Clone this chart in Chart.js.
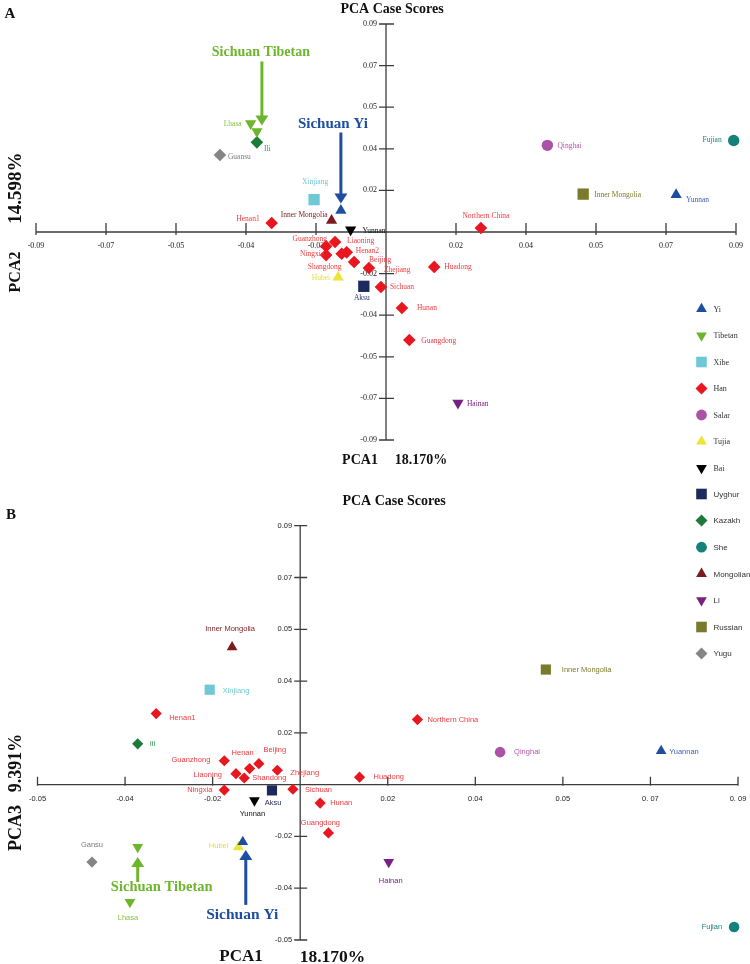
<!DOCTYPE html>
<html><head><meta charset="utf-8">
<script src="https://cdn.jsdelivr.net/npm/chart.js@4.4.1/dist/chart.umd.min.js"></script>
<style>
html,body{margin:0;padding:0;background:#fff;}
#wrap{position:relative;width:750px;height:964px;overflow:hidden;}
#ca{position:absolute;left:0;top:0;}
#cb{position:absolute;left:0;top:480px;}
</style></head><body>
<div id="wrap"><canvas id="ca" width="750" height="480"></canvas><canvas id="cb" width="750" height="484"></canvas></div>
<script>
// ---------- groups ----------
const groups = ['Yi','Tibetan','Xibe','Han','Salar','Tujia','Bai','Uyghur','Kazakh','She','Mongolian','Li','Russian','Yugu'];
const groupColors = ['#1f4ea0','#6cb52d','#6ec8d6','#e8161e','#ab52a6','#ece535','#000000','#1c2a5e','#1c7b3b','#16807a','#7b1a1f','#782080','#7a7a2c','#858585'];
const labelColors = ['#3b5fb5','#86c341','#6ec8d6','#f03a3f','#b055ab','#e3dc3a','#111111','#1c2a5e','#2a9a4a','#178079','#7b1a1f','#782080','#7a7a2c','#7d7d7d'];
const groupShapes = ['triangle','triangle','rect','rectRot','circle','triangle','triangle','rect','rectRot','circle','triangle','triangle','rect','rectRot'];
const groupRot = [0,180,0,0,0,0,180,0,0,0,0,180,0,0];

// ---------- ticks (evenly spaced positions, printed labels) ----------
const tickStep = 0.018;
const aTickIdx = [-5,-4,-3,-2,-1,0,1,2,3,4,5];
const aXTickLabels = ['-0.09','-0.07','-0.05','-0.04','-0.02','','0.02','0.04','0.05','0.07','0.09'];
const aYTickLabels = ['-0.09','-0.07','-0.05','-0.04','-0.02','','0.02','0.04','0.05','0.07','0.09'];
const bTickIdx = [-3,-2,-1,0,1,2,3,4,5];
const bXTickLabels = ['-0.05','-0.04','-0.02','','0.02','0.04','0.05','0. 07','0. 09'];
const bYTickLabels = ['-0.05','-0.04','-0.02','','0.02','0.04','0.05','0.07','0.09'];

// ---------- Panel A: PCA1 vs PCA2 ----------
const aSites = ['Yunnan','Sichuan Yi','Lhasa','Sichuan Tibetan','Xinjiang','Henan1','Guanzhong','Liaoning','Ningxia','Shangdong','Henan2','Beijing','Zhejiang','Huadong','Sichuan','Hunan','Guangdong','Northern China','Qinghai','Hubei','Yunnan','Aksu','Ili','Fujian','Inner Mongolia','Hainan','Inner Mongolia','Guansu'];
const aGroup = ['Yi','Yi','Tibetan','Tibetan','Xibe','Han','Han','Han','Han','Han','Han','Han','Han','Han','Han','Han','Han','Han','Salar','Tujia','Bai','Uyghur','Kazakh','She','Mongolian','Li','Russian','Yugu'];
const aPC1 = [0.0746,-0.0116,-0.0348,-0.0332,-0.0185,-0.0294,-0.0154,-0.0131,-0.0154,-0.0114,-0.0101,-0.0082,-0.0044,0.0124,-0.0013,0.0041,0.0060,0.0244,0.0415,-0.0123,-0.0091,-0.0057,-0.0332,0.0894,-0.0140,0.0185,0.0507,-0.0427];
const aPC2 = [0.0161,0.0093,0.0469,0.0435,0.0140,0.0039,-0.0062,-0.0043,-0.0100,-0.0094,-0.0088,-0.0130,-0.0156,-0.0151,-0.0238,-0.0329,-0.0467,0.0017,0.0375,-0.0196,0.0010,-0.0235,0.0388,0.0396,0.0050,-0.0740,0.0164,0.0333];

// ---------- Panel B: PCA1 vs PCA3 ----------
const bSites = ['Yuannan','Sichuan Yi','Lhasa','Sichuan Tibetan','Xinjiang','Henan1','Guanzhong','Henan','Beijing','Liaoning','Shandong','Zhejiang','Ningxia','Sichuan','Hunan','Guangdong','Huadong','Northern China','Qinghai','Hubei','Yunnan','Aksu','Ili','Fujian','Inner Mongolia','Hainan','Inner Mongolia','Gansu'];
const bGroup = ['Yi','Yi','Tibetan','Tibetan','Xibe','Han','Han','Han','Han','Han','Han','Han','Han','Han','Han','Han','Han','Han','Salar','Tujia','Bai','Uyghur','Kazakh','She','Mongolian','Li','Russian','Yugu'];
const bPC1 = [0.0742,-0.0118,-0.0350,-0.0334,-0.0186,-0.0296,-0.0156,-0.0104,-0.0085,-0.0132,-0.0115,-0.0047,-0.0156,-0.0015,0.0041,0.0058,0.0122,0.0241,0.0411,-0.0127,-0.0094,-0.0058,-0.0334,0.0892,-0.0140,0.0182,0.0505,-0.0428];
const bPC3 = [0.0117,-0.0199,-0.0408,-0.0217,0.0330,0.0247,0.0083,0.0056,0.0073,0.0038,0.0023,0.0050,-0.0019,-0.0016,-0.0064,-0.0168,0.0026,0.0226,0.0113,-0.0217,-0.0055,-0.0020,0.0142,-0.0495,0.0478,-0.0269,0.0400,-0.0269];

// ---------- label placement (style, not data) ----------
const aLabelPos = [
 [10,5,'left'], null, [-9,0,'right'], null, [1,-18,'center'], [-12,-4,'right'],
 [1,-7,'right'], [12,-1,'left'], [-2,-1,'right'], [-17,13,'center'], [9,-1,'left'],
 [15,-2,'left'], [15,2,'left'], [10,0,'left'], [9,0,'left'], [15,0,'left'], [12,1,'left'],
 [5,-12,'center'], [10,1,'left'], [-8,1,'right'], [12,1,'left'], [-2,12,'center'],
 [7,7,'left'], [-12,0,'right'], [-4,-5,'right'], [9,1,'left'], [11,1,'left'], [8,2,'left']
];
const bLabelPos = [
 [8,1,'left'], null, [-2,16,'center'], null, [13,1,'left'], [13,4,'left'], [-14,-1,'right'],
 [-7,-16,'center'], [16,-14,'center'], [-14,1,'right'], [8,0,'left'], [13,3,'left'],
 [-12,0,'right'], [12,1,'left'], [10,0,'left'], [-8,-10,'center'], [14,0,'left'],
 [10,0,'left'], [14,0,'left'], [-10,-1,'right'], [-2,13,'center'], [1,13,'center'],
 [12,0,'left'], [-12,0,'right'], [-2,-18,'center'], [2,19,'center'], [16,0,'left'], [0,-17,'center']
];
// arrow call-outs attached to a site (s=-1: arrow points down, +1: points up)
const aArrows = [
 {site:3, group:'Tibetan', text:'Sichuan Tibetan', tip:[5,-6], len:64, s:-1, tdx:-1, gap:9, size:14},
 {site:1, group:'Yi', text:'Sichuan Yi', tip:[0,-7], len:71, s:-1, tdx:-8, gap:8, size:15}
];
const bArrows = [
 {site:3, group:'Tibetan', text:'Sichuan Tibetan', tip:[0,10], len:25, s:1, tdx:24, gap:5, size:14.5},
 {site:1, group:'Yi', text:'Sichuan Yi', tip:[3,8], len:55, s:1, tdx:-3.5, gap:10, size:15.5}
];

const SERIF = '"Liberation Serif","Times New Roman",serif';
const SANS = '"Liberation Sans",Arial,sans-serif';

function buildDatasets(sites, grp, xs, ys, radii) {
  return groups.map((g, gi) => {
    const r = radii[groupShapes[gi]];
    return {
      label: g,
      data: sites.map((s, i) => ({x: xs[i], y: ys[i], i})).filter(p => grp[p.i] === g),
      pointStyle: groupShapes[gi],
      pointRotation: groupRot[gi],
      pointRadius: r, pointHoverRadius: r,
      pointBackgroundColor: groupColors[gi],
      pointBorderColor: groupColors[gi],
      pointBorderWidth: 0,
      showLine: false,
      clip: false
    };
  });
}

function drawMarker(ctx, style, rot, radius, x, y, color) {
  ctx.save();
  ctx.fillStyle = color; ctx.strokeStyle = color;
  if (Chart.helpers && Chart.helpers.drawPoint) {
    Chart.helpers.drawPoint(ctx, {pointStyle: style, rotation: rot, radius: radius, borderWidth: 0}, x, y);
  }
  ctx.restore();
}

function makeDeco(cfg) {
  return {
    id: 'deco_' + cfg.id,
    beforeDatasetsDraw(chart) {
      const ctx = chart.ctx, xs = chart.scales.x, ys = chart.scales.y;
      const x0 = xs.getPixelForValue(0), y0 = ys.getPixelForValue(0);
      ctx.save();
      ctx.strokeStyle = '#3c3c3c'; ctx.lineWidth = 1.3;
      ctx.beginPath();
      ctx.moveTo(xs.left, y0); ctx.lineTo(xs.right, y0);
      ctx.moveTo(x0, ys.top); ctx.lineTo(x0, ys.bottom);
      xs.ticks.forEach(t => {
        if (Math.abs(t.value) < 1e-9) return;
        const px = xs.getPixelForValue(t.value);
        ctx.moveTo(px, y0 - cfg.xTick[0]); ctx.lineTo(px, y0 + cfg.xTick[1]);
      });
      ys.ticks.forEach(t => {
        if (Math.abs(t.value) < 1e-9) return;
        const py = ys.getPixelForValue(t.value);
        ctx.moveTo(x0 - cfg.yTick[0], py); ctx.lineTo(x0 + cfg.yTick[1], py);
      });
      ctx.stroke();
      // tick labels
      ctx.fillStyle = '#222';
      ctx.font = cfg.tickFont;
      ctx.textBaseline = 'middle';
      ctx.textAlign = 'center';
      xs.ticks.forEach((t, k) => {
        const lab = cfg.xLabels[k]; if (!lab) return;
        ctx.fillText(lab, xs.getPixelForValue(t.value), y0 + cfg.xLabGap);
      });
      ctx.textAlign = 'right';
      ys.ticks.forEach((t, k) => {
        const lab = cfg.yLabels[k]; if (!lab) return;
        ctx.fillText(lab, x0 - cfg.yLabGap, ys.getPixelForValue(t.value));
      });
      ctx.restore();
    },
    afterDatasetsDraw(chart) {
      const ctx = chart.ctx;
      ctx.save();
      // point labels
      ctx.textBaseline = 'middle';
      ctx.font = cfg.labelFont;
      chart.data.datasets.forEach((ds, di) => {
        const meta = chart.getDatasetMeta(di);
        ds.data.forEach((p, j) => {
          const pos = cfg.labelPos[p.i]; if (!pos) return;
          const el = meta.data[j];
          ctx.fillStyle = labelColors[di];
          ctx.textAlign = pos[2];
          ctx.fillText(cfg.sites[p.i], el.x + pos[0], el.y + pos[1]);
        });
      });
      // arrows
      cfg.arrows.forEach(a => {
        const di = groups.indexOf(a.group);
        const meta = chart.getDatasetMeta(di);
        const j = chart.data.datasets[di].data.findIndex(p => p.i === a.site);
        const el = meta.data[j];
        const tx = el.x + a.tip[0], ty = el.y + a.tip[1];
        const tailY = ty + a.s * a.len;
        const h = 10, w = 6.5;
        const col = groupColors[di];
        ctx.strokeStyle = col; ctx.fillStyle = col; ctx.lineWidth = 3;
        ctx.beginPath(); ctx.moveTo(tx, tailY); ctx.lineTo(tx, ty + a.s * h * 0.8); ctx.stroke();
        ctx.beginPath(); ctx.moveTo(tx, ty); ctx.lineTo(tx - w, ty + a.s * h); ctx.lineTo(tx + w, ty + a.s * h); ctx.closePath(); ctx.fill();
        ctx.font = 'bold ' + a.size + 'px ' + SERIF;
        ctx.textAlign = 'center'; ctx.textBaseline = 'middle';
        ctx.fillText(a.text, tx + a.tdx, tailY + a.s * a.gap);
      });
      // legend
      ctx.font = cfg.legendFont; ctx.textAlign = 'left'; ctx.textBaseline = 'middle';
      cfg.legendItems.forEach((gi, k) => {
        const y = cfg.legendY + k * cfg.legendStep;
        const st = groupShapes[gi];
        const r = cfg.legendR[st];
        drawMarker(ctx, st, groupRot[gi], r, 701.5, y, groupColors[gi]);
        ctx.fillStyle = '#333';
        ctx.fillText(groups[gi], 713.5, y + 0.5);
      });
      // titles
      ctx.fillStyle = '#111';
      ctx.textAlign = 'center';
      ctx.font = 'bold 14px ' + SERIF;
      ctx.fillText('PCA Case Scores', cfg.title[0], cfg.title[1]);
      ctx.font = 'bold 15px ' + SERIF;
      ctx.fillText(cfg.letter, cfg.letterPos[0], cfg.letterPos[1]);
      cfg.xTitles.forEach(t => {
        ctx.font = 'bold ' + t[3] + 'px ' + SERIF;
        ctx.fillText(t[0], t[1], t[2]);
      });
      cfg.yTitles.forEach(t => {
        ctx.save();
        ctx.translate(t[1], t[2]); ctx.rotate(-Math.PI / 2);
        ctx.font = 'bold ' + t[3] + 'px ' + SERIF;
        ctx.fillText(t[0], 0, 0);
        ctx.restore();
      });
      ctx.restore();
    }
  };
}

function makeChart(canvasId, datasets, idx, pad, deco) {
  const mk = () => ({
    type: 'linear', min: idx[0] * tickStep, max: idx[idx.length - 1] * tickStep,
    afterBuildTicks: s => { s.ticks = idx.map(i => ({value: i * tickStep})); },
    ticks: {display: false}, grid: {display: false, drawTicks: false}, border: {display: false}
  });
  const xs = mk(); xs.position = {y: 0};
  const ys = mk(); ys.position = {x: 0};
  return new Chart(document.getElementById(canvasId), {
    type: 'scatter',
    data: {datasets},
    options: {
      responsive: false, animation: false, events: [],
      layout: {padding: pad},
      scales: {x: xs, y: ys},
      plugins: {legend: {display: false}, tooltip: {enabled: false}, title: {display: false}}
    },
    plugins: [deco]
  });
}

// Panel A
makeChart('ca',
  buildDatasets(aSites, aGroup, aPC1, aPC2, {triangle: 6.5, rect: 8, rectRot: 6.3, circle: 5.7}),
  aTickIdx, {left: 36, right: 14, top: 24, bottom: 40},
  makeDeco({
    id: 'a', sites: aSites, labelPos: aLabelPos, arrows: aArrows,
    xTick: [9, 3], yTick: [7, 8], xLabels: aXTickLabels, yLabels: aYTickLabels,
    xLabGap: 14, yLabGap: 9, tickFont: '8px ' + SERIF, labelFont: '7.5px ' + SERIF,
    legendItems: [0,1,2,3,4,5,6], legendY: 309, legendStep: 26.5, legendFont: '8px ' + SERIF,
    legendR: {triangle: 6.2, rect: 7.5, rectRot: 6, circle: 5.4},
    title: [392, 9], letter: 'A', letterPos: [10, 14],
    xTitles: [['PCA1', 360, 460, 14], ['18.170%', 421, 460, 14]],
    yTitles: [['14.598%', 16, 188, 19], ['PCA2', 16, 272, 16]]
  }));

// Panel B
makeChart('cb',
  buildDatasets(bSites, bGroup, bPC1, bPC3, {triangle: 6.2, rect: 7.2, rectRot: 5.6, circle: 5.3}),
  bTickIdx, {left: 37.5, right: 12, top: 45.7, bottom: 24},
  makeDeco({
    id: 'b', sites: bSites, labelPos: bLabelPos, arrows: bArrows,
    xTick: [8, 1], yTick: [6, 7], xLabels: bXTickLabels, yLabels: bYTickLabels,
    xLabGap: 14.5, yLabGap: 8, tickFont: '7.5px ' + SANS, labelFont: '7.5px ' + SANS,
    legendItems: [7,8,9,10,11,12,13], legendY: 14, legendStep: 26.6, legendFont: '8px ' + SANS,
    legendR: {triangle: 6.2, rect: 7.5, rectRot: 6, circle: 5.4},
    title: [394, 21], letter: 'B', letterPos: [11, 35],
    xTitles: [['PCA1', 241, 477, 17], ['18.170%', 332.5, 477, 17.5]],
    yTitles: [['9.391%', 16, 283, 18], ['PCA3', 16, 348, 18]]
  }));
</script>
</body></html>
